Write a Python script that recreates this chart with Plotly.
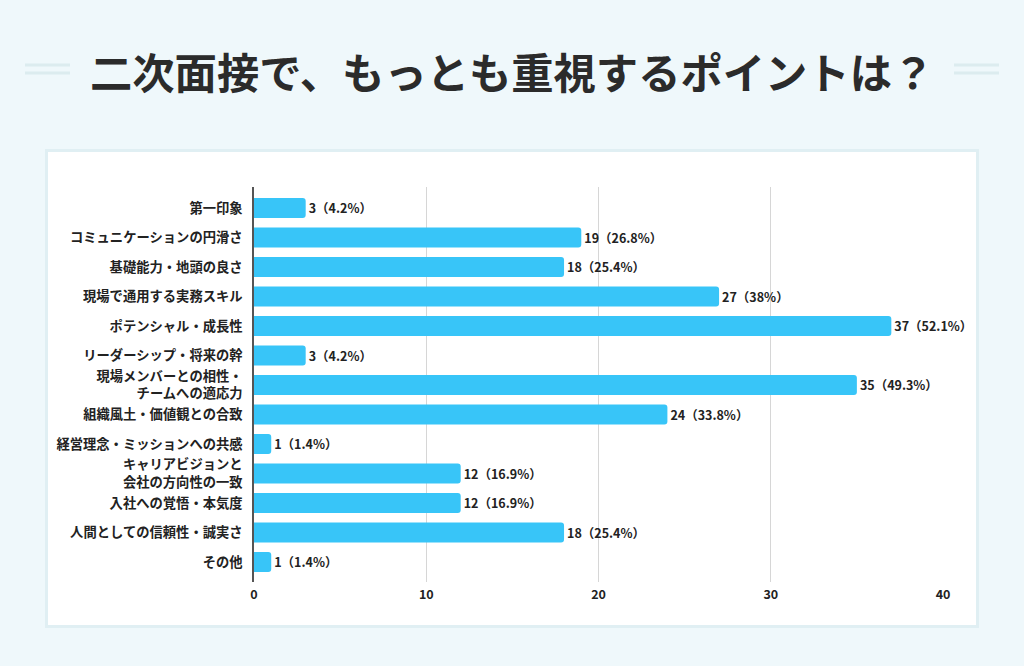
import plotly.graph_objects as go

title = "二次面接で、もっとも重視するポイントは？"
categories = [
    "第一印象",
    "コミュニケーションの円滑さ",
    "基礎能力・地頭の良さ",
    "現場で通用する実務スキル",
    "ポテンシャル・成長性",
    "リーダーシップ・将来の幹",
    "現場メンバーとの相性・<br>チームへの適応力",
    "組織風土・価値観との合致",
    "経営理念・ミッションへの共感",
    "キャリアビジョンと<br>会社の方向性の一致",
    "入社への覚悟・本気度",
    "人間としての信頼性・誠実さ",
    "その他",
]
counts = [3, 19, 18, 27, 37, 3, 35, 24, 1, 12, 12, 18, 1]
percents = ["4.2%", "26.8%", "25.4%", "38%", "52.1%", "4.2%", "49.3%",
            "33.8%", "1.4%", "16.9%", "16.9%", "25.4%", "1.4%"]
tick_vals = [0, 10, 20, 30, 40]

FONT = "Noto Sans CJK JP"
W, H = 1024, 666

labels = [f"{c}（{p}）" for c, p in zip(counts, percents)]

fig = go.Figure()
fig.add_trace(go.Bar(
    x=counts, y=list(range(len(categories))), orientation="h",
    marker=dict(color="#38c5f8", cornerradius=3, line=dict(width=0)),
    text=labels, textposition="outside", cliponaxis=False,
    textfont=dict(family=FONT, size=12.5, color="#222222", weight="bold"),
    width=0.68, hoverinfo="skip",
))

x0, x1 = 254, 943
y0, y1 = 187, 582

fig.update_layout(
    width=W, height=H,
    margin=dict(l=0, r=0, t=0, b=0, autoexpand=False),
    paper_bgcolor="#eff8fb",
    plot_bgcolor="rgba(0,0,0,0)",
    showlegend=False,
    font=dict(family=FONT, color="#222222"),
    xaxis=dict(
        domain=[x0 / W, x1 / W], automargin=False,
        range=[0, 40], tickvals=tick_vals,
        showgrid=True, gridcolor="#d6d6d6", gridwidth=1,
        zeroline=False, showline=False,
        ticks="", ticklabelstandoff=3,
        tickfont=dict(family=FONT, size=12.5, color="#222222", weight="bold"),
        fixedrange=True,
    ),
    yaxis=dict(
        domain=[1 - y1 / H, 1 - y0 / H], automargin=False,
        range=[12.68, -0.71],
        tickvals=list(range(len(categories))), ticktext=categories,
        showgrid=False, zeroline=False,
        showline=True, linecolor="#555555", linewidth=1.5,
        ticks="", ticklabelstandoff=7,
        tickfont=dict(family=FONT, size=13.3, color="#222222", weight="bold"),
        fixedrange=True,
    ),
    shapes=[
        dict(type="rect", xref="paper", yref="paper",
             x0=46.5 / W, x1=977.5 / W, y0=1 - 626.5 / H, y1=1 - 150.5 / H,
             fillcolor="#ffffff", line=dict(color="#e0eff3", width=3), layer="below"),
        dict(type="line", xref="paper", yref="paper",
             x0=25 / W, x1=70 / W, y0=1 - 65 / H, y1=1 - 65 / H,
             line=dict(color="#dcecef", width=3)),
        dict(type="line", xref="paper", yref="paper",
             x0=25 / W, x1=70 / W, y0=1 - 73 / H, y1=1 - 73 / H,
             line=dict(color="#dcecef", width=3)),
        dict(type="line", xref="paper", yref="paper",
             x0=954 / W, x1=999 / W, y0=1 - 65 / H, y1=1 - 65 / H,
             line=dict(color="#dcecef", width=3)),
        dict(type="line", xref="paper", yref="paper",
             x0=954 / W, x1=999 / W, y0=1 - 73 / H, y1=1 - 73 / H,
             line=dict(color="#dcecef", width=3)),
    ],
    annotations=[
        dict(text=title, xref="paper", yref="paper", x=0.5, y=1 - 71 / H,
             xanchor="center", yanchor="middle", showarrow=False,
             font=dict(family=FONT, size=42.3, color="#2b2b2b", weight="bold")),
    ],
)

fig.write_html("out.html")
